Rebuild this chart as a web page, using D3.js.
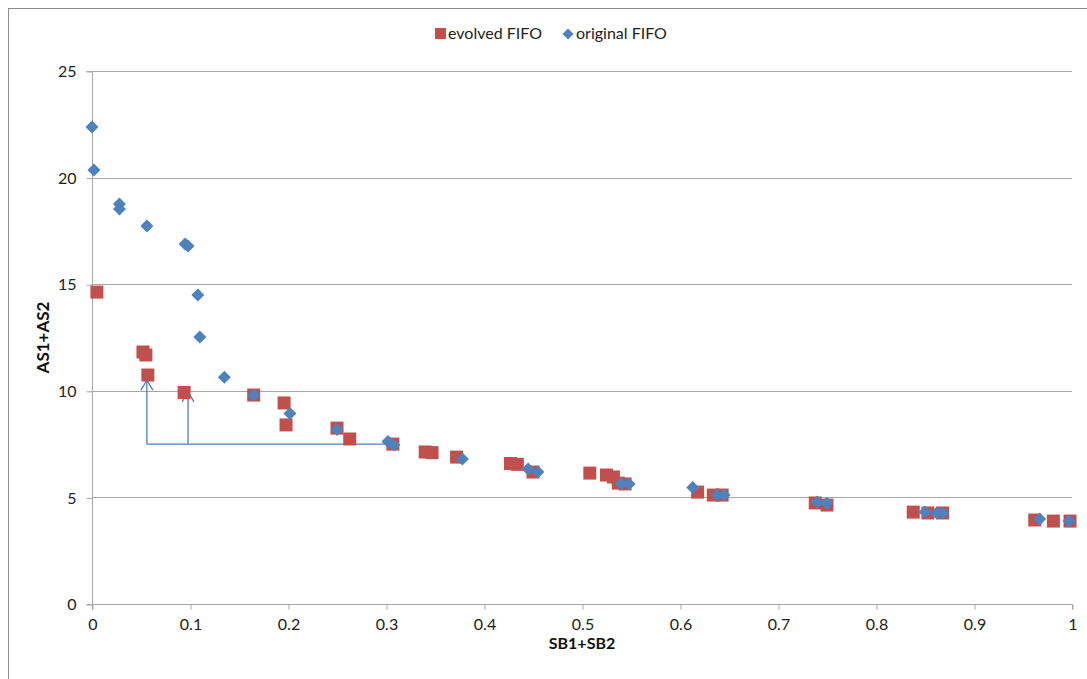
<!DOCTYPE html>
<html>
<head>
<meta charset="utf-8">
<script src="https://cdn.jsdelivr.net/npm/d3@7"></script>
<style>
  html, body { margin: 0; padding: 0; background: #fff; }
  svg { display: block; font-family: Lato, "Open Sans", "Liberation Sans", sans-serif; }
</style>
</head>
<body>
<svg id="chart" width="1087" height="679"></svg>
<script>
// ---- data ----
const evolvedX = [0.005, 0.052, 0.055, 0.057, 0.094, 0.165, 0.196, 0.198, 0.250, 0.263, 0.307, 0.340, 0.347, 0.372, 0.427, 0.434, 0.450, 0.508, 0.525, 0.532, 0.537, 0.544, 0.618, 0.634, 0.643, 0.738, 0.750, 0.838, 0.853, 0.868, 0.962, 0.981, 0.998];
const evolvedY = [14.63, 11.82, 11.68, 10.74, 9.92, 9.80, 9.43, 8.40, 8.25, 7.74, 7.50, 7.13, 7.10, 6.89, 6.59, 6.55, 6.19, 6.14, 6.05, 5.96, 5.67, 5.63, 5.25, 5.11, 5.11, 4.74, 4.64, 4.31, 4.27, 4.27, 3.94, 3.89, 3.89];
const originalX = [0.000, 0.002, 0.028, 0.028, 0.056, 0.095, 0.098, 0.108, 0.110, 0.135, 0.165, 0.202, 0.250, 0.302, 0.308, 0.378, 0.445, 0.455, 0.540, 0.548, 0.613, 0.638, 0.645, 0.740, 0.750, 0.850, 0.862, 0.868, 0.967, 0.997];
const originalY = [22.37, 20.36, 18.76, 18.53, 17.73, 16.89, 16.79, 14.49, 12.52, 10.63, 9.80, 8.93, 8.18, 7.62, 7.46, 6.80, 6.33, 6.19, 5.65, 5.63, 5.46, 5.11, 5.11, 4.78, 4.72, 4.31, 4.27, 4.27, 3.99, 3.89];
const xTicks = [0, 0.1, 0.2, 0.3, 0.4, 0.5, 0.6, 0.7, 0.8, 0.9, 1];
const yTicks = [0, 5, 10, 15, 20, 25];
const seriesNames = ["evolved FIFO", "original FIFO"];
const xTitle = "SB1+SB2";
const yTitle = "AS1+AS2";
// annotation (data units): two upward arrows joined by a horizontal baseline
const arrowX = [0.056, 0.098];
const arrowTopY = [10.5, 9.95];
const baseY = 7.5;
const baseEndX = 0.299;

// ---- layout ----
const svg = d3.select("#chart");
const pLeft = 92, pRight = 1072, pTop = 71, pBottom = 604;
const x = d3.scaleLinear().domain([0, 1]).range([pLeft, pRight]);
const y = d3.scaleLinear().domain([0, 25]).range([pBottom, pTop]);
const red = "#C0504D", blue = "#4F81BD", gridC = "#a6a6a6";

// outer border
svg.append("rect").attr("x", 8.5).attr("y", 8.5).attr("width", 1200).attr("height", 800)
  .attr("fill", "none").attr("stroke", "#8c8c8c").attr("stroke-width", 1);

// gridlines
svg.append("g").selectAll("line").data(yTicks.filter(d => d > 0)).join("line")
  .attr("x1", pLeft).attr("x2", pRight)
  .attr("y1", d => Math.round(y(d)) + 0.5).attr("y2", d => Math.round(y(d)) + 0.5)
  .attr("stroke", gridC).attr("stroke-width", 1);

// axes
const yAxis = d3.axisLeft(y).tickValues(yTicks).tickFormat(d3.format("d")).tickSize(6).tickPadding(10);
const gy = svg.append("g").attr("transform", `translate(${pLeft + 0.5},0.5)`).call(yAxis);
const xAxis = d3.axisBottom(x).tickValues(xTicks).tickFormat(d => d === 0 || d === 1 ? String(d) : d3.format(".1f")(d)).tickSize(5).tickPadding(9);
const gx = svg.append("g").attr("transform", `translate(0.5,${pBottom + 0.5})`).call(xAxis);
[gx, gy].forEach(g => {
  g.select(".domain").attr("stroke", gridC).attr("stroke-width", 1);
  g.selectAll(".tick line").attr("stroke", gridC);
  g.selectAll(".tick text").attr("fill", "#222").style("font-size", "16px").style("font-family", "Lato, 'Open Sans', sans-serif");
});
gy.select(".domain").attr("d", `M-6,${pBottom}H0V${pTop}H-6`);
gx.select(".domain").attr("d", `M${pLeft},5V0H${pRight}V5`);

// axis titles
svg.append("text").attr("x", 582).attr("y", 649).attr("text-anchor", "middle")
  .style("font-size", "16px").style("font-weight", "bold").attr("fill", "#111").text(xTitle);
svg.append("text").attr("transform", `translate(49,${(pTop + pBottom) / 2}) rotate(-90)`).attr("text-anchor", "middle")
  .style("font-size", "17px").style("font-weight", "bold").attr("fill", "#111").text(yTitle);

// annotation arrows
const ann = svg.append("g").attr("stroke", "#4a7ebb").attr("stroke-width", 1.3).attr("fill", "none");
ann.append("path").attr("d", `M${x(arrowX[0])},${y(baseY)}H${x(baseEndX)}`);
arrowX.forEach((ax, i) => {
  const px = x(ax), pt = y(arrowTopY[i]);
  ann.append("path").attr("d", `M${px},${y(baseY)}V${pt}`);
  ann.append("path").attr("d", `M${px - 6},${pt + 10}L${px},${pt}L${px + 6},${pt + 10}`);
});

// series
const evolved = evolvedX.map((v, i) => ({x: v, y: evolvedY[i]}));
const original = originalX.map((v, i) => ({x: v, y: originalY[i]}));
const sq = 13;
svg.append("g").selectAll("rect").data(evolved).join("rect")
  .attr("x", d => x(d.x) - sq / 2).attr("y", d => y(d.y) - sq / 2)
  .attr("width", sq).attr("height", sq).attr("fill", red);
const dm = 6.5;
const diamond = (cx, cy, r) => `M${cx},${cy - r}L${cx + r},${cy}L${cx},${cy + r}L${cx - r},${cy}Z`;
svg.append("g").selectAll("path").data(original).join("path")
  .attr("d", d => diamond(x(d.x), y(d.y), dm)).attr("fill", blue);

// legend
const lg = svg.append("g").style("font-size", "16px").attr("fill", "#222");
lg.append("rect").attr("x", 435).attr("y", 28).attr("width", 11).attr("height", 11).attr("fill", red);
lg.append("text").attr("x", 448).attr("y", 39).text(seriesNames[0]);
lg.append("path").attr("d", diamond(568, 34, 5.5)).attr("fill", blue);
lg.append("text").attr("x", 576).attr("y", 39).text(seriesNames[1]);
</script>
</body>
</html>
